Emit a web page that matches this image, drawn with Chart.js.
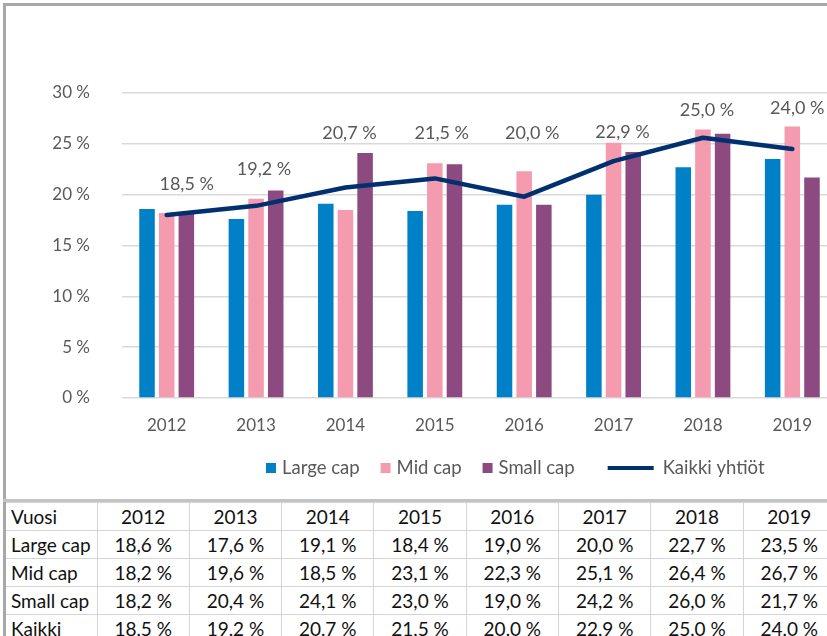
<!DOCTYPE html>
<html>
<head>
<meta charset="utf-8">
<script src="https://cdn.jsdelivr.net/npm/chart.js@4.4.1/dist/chart.umd.min.js"></script>
<style>
  html, body { margin: 0; padding: 0; background: #fff; width: 827px; height: 636px; overflow: hidden; position: relative; font-family: Lato, "Open Sans", sans-serif; }
  #frame { position: absolute; left: 3px; top: 3px; width: 900px; height: 700px; border-left: 3px solid #a8a8a8; border-top: 3px solid #a8a8a8; box-sizing: border-box; }
  #divider { position: absolute; left: 3px; top: 499px; width: 900px; height: 3px; background: #c4c4c4; }
  #chartWrap { position: absolute; left: 0; top: 0; width: 845px; height: 498px; }
  #tbl { position: absolute; left: 6px; top: 502px; border-collapse: collapse; table-layout: fixed; width: 830px; }
  #tbl td { height: 27px; padding: 0; border: 1px solid #d4d4d4; text-align: center; font-size: 19px; color: #111; line-height: 27px; white-space: nowrap; overflow: hidden; }
  #tbl td.h { text-align: left; padding-left: 5px; }
  #tbl tr:first-child td { border-top: none; }
  #tbl tr td:first-child { border-left: none; }
</style>
</head>
<body>
<div id="frame"></div>
<div id="chartWrap"><canvas id="c" width="845" height="498"></canvas></div>
<div id="divider"></div>
<table id="tbl"><colgroup id="cols"></colgroup></table>
<script>
// ---- data ----
const years = ["2012", "2013", "2014", "2015", "2016", "2017", "2018", "2019"];
const largeCap = [18.6, 17.6, 19.1, 18.4, 19.0, 20.0, 22.7, 23.5];
const midCap = [18.2, 19.6, 18.5, 23.1, 22.3, 25.1, 26.4, 26.7];
const smallCap = [18.2, 20.4, 24.1, 23.0, 19.0, 24.2, 26.0, 21.7];
const kaikki = [18.5, 19.2, 20.7, 21.5, 20.0, 22.9, 25.0, 24.0];          // table / label values
const kaikkiLine = [18.0, 18.9, 20.7, 21.6, 19.8, 23.3, 25.6, 24.5];      // line as drawn in the picture
const yTicks = [0, 5, 10, 15, 20, 25, 30];

// ---- label placement (layout, not data) ----
const labelAnchor = [21.0, 22.5, 26.0, 26.0, 26.0, 26.1, 28.3, 28.5];
const labelDx = [20, 8, 4, 7, 8, 9, 4, 5];

const COLORS = { large: "#0080C6", mid: "#F49BB0", small: "#8C4A81", line: "#00306F", text: "#595959", grid: "#D9D9D9" };
const FONT = "Lato, 'Open Sans', sans-serif";
const fmt = v => v.toFixed(1).replace(".", ",") + " %";

const labelPlugin = {
  id: "kaikkiLabels",
  afterDatasetsDraw(chart) {
    const ctx = chart.ctx, xs = chart.scales.x, ys = chart.scales.y;
    ctx.save();
    ctx.font = "18px " + FONT;
    ctx.fillStyle = COLORS.text;
    ctx.textAlign = "center";
    ctx.textBaseline = "middle";
    kaikki.forEach((v, i) => {
      ctx.fillText(fmt(v), xs.getPixelForValue(i) + labelDx[i], ys.getPixelForValue(labelAnchor[i]));
    });
    ctx.restore();
  }
};

const legendPlugin = {
  id: "customLegend",
  afterDraw(chart) {
    const ctx = chart.ctx;
    const items = [
      { t: "Large cap", c: COLORS.large, type: "box" },
      { t: "Mid cap", c: COLORS.mid, type: "box" },
      { t: "Small cap", c: COLORS.small, type: "box" },
      { t: "Kaikki yhtiöt", c: COLORS.line, type: "line" }
    ];
    const yc = 468;
    let x = 266;
    ctx.save();
    ctx.font = "18.5px " + FONT;
    ctx.textBaseline = "middle";
    ctx.textAlign = "left";
    items.forEach((it, i) => {
      if (it.type === "box") {
        ctx.fillStyle = it.c;
        ctx.fillRect(x, yc - 5, 10, 10);
        x += 16;
      } else {
        x += 12;
        ctx.strokeStyle = it.c;
        ctx.lineWidth = 4;
        ctx.beginPath();
        ctx.moveTo(x, yc);
        ctx.lineTo(x + 46, yc);
        ctx.stroke();
        x += 55;
      }
      ctx.fillStyle = COLORS.text;
      ctx.fillText(it.t, x, yc);
      x += ctx.measureText(it.t).width + 21;
    });
    ctx.restore();
  }
};

const barCommon = { categoryPercentage: 0.66, barPercentage: 0.79, order: 1, borderWidth: 0 };

new Chart(document.getElementById("c"), {
  type: "bar",
  data: {
    labels: years,
    datasets: [
      { type: "line", label: "Kaikki yhtiöt", data: kaikkiLine, borderColor: COLORS.line, backgroundColor: COLORS.line, borderWidth: 4.5, pointRadius: 0, tension: 0, borderCapStyle: "round", borderJoinStyle: "round", order: 0 },
      Object.assign({ label: "Large cap", data: largeCap, backgroundColor: COLORS.large }, barCommon),
      Object.assign({ label: "Mid cap", data: midCap, backgroundColor: COLORS.mid }, barCommon),
      Object.assign({ label: "Small cap", data: smallCap, backgroundColor: COLORS.small }, barCommon)
    ]
  },
  options: {
    responsive: false,
    animation: false,
    devicePixelRatio: 1,
    layout: { padding: { top: 93, right: 8, left: 0, bottom: 0 } },
    plugins: { legend: { display: false }, tooltip: { enabled: false } },
    scales: {
      x: {
        grid: { display: false, drawTicks: false },
        border: { display: false },
        ticks: { color: COLORS.text, font: { family: FONT, size: 17 }, padding: 17, maxRotation: 0 },
        afterFit: s => { s.height = 100; }
      },
      y: {
        min: 0, max: 30,
        afterBuildTicks: s => { s.ticks = yTicks.map(v => ({ value: v })); },
        grid: { color: COLORS.grid, lineWidth: 1.5, drawTicks: false },
        border: { display: false },
        ticks: { color: COLORS.text, font: { family: FONT, size: 17 }, padding: 32, callback: v => v + " %" },
        afterFit: s => { s.width = 122; }
      }
    }
  },
  plugins: [labelPlugin, legendPlugin]
});

// ---- data table ----
const tbl = document.getElementById("tbl");
const cols = document.getElementById("cols");
for (let i = 0; i < 9; i++) {
  const c = document.createElement("col");
  c.style.width = (i === 0 ? 91 : 92.3) + "px";
  cols.appendChild(c);
}
const rows = [["Vuosi", years], ["Large cap", largeCap.map(fmt)], ["Mid cap", midCap.map(fmt)], ["Small cap", smallCap.map(fmt)], ["Kaikki", kaikki.map(fmt)]];
rows.forEach(r => {
  const tr = document.createElement("tr");
  const th = document.createElement("td");
  th.className = "h"; th.textContent = r[0]; tr.appendChild(th);
  r[1].forEach(v => { const td = document.createElement("td"); td.textContent = v; tr.appendChild(td); });
  tbl.appendChild(tr);
});
</script>
</body>
</html>
